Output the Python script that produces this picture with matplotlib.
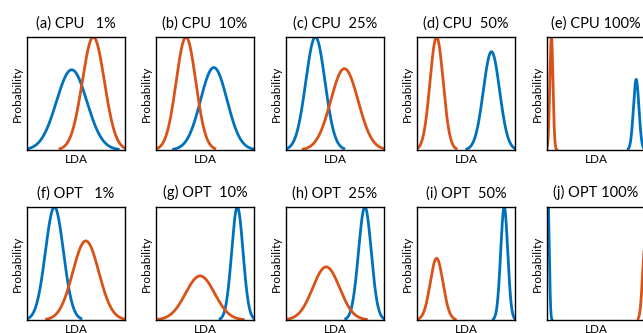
import numpy as np
import matplotlib.pyplot as plt

# panel titles
titles = ["(a) CPU   1%", "(b) CPU  10%", "(c) CPU  25%", "(d) CPU  50%", "(e) CPU 100%",
          "(f) OPT   1%", "(g) OPT  10%", "(h) OPT  25%", "(i) OPT  50%", "(j) OPT 100%"]

# curve parameters (LDA axis scaled 0..1, probability scaled 0..1)
blue_mu   = [0.456, 0.59, 0.30, 0.76, 0.91, 0.28, 0.83, 0.805, 0.89, 0.012]
blue_sd   = [0.155, 0.135, 0.098, 0.083, 0.028, 0.092, 0.058, 0.065, 0.036, 0.012]
blue_peak = [0.71, 0.73, 1.0, 0.87, 0.625, 1.0, 1.0, 1.0, 1.0, 1.0]
blue_lo   = [0.0, 0.18, 0.0, 0.51, 0.83, 0.0, 0.655, 0.61, 0.78, 0.0]
blue_hi   = [0.93, 1.0, 0.59, 1.0, 1.0, 0.55, 1.0, 1.0, 1.0, 0.05]

orange_mu   = [0.677, 0.306, 0.596, 0.20, 0.045, 0.60, 0.45, 0.41, 0.20, 1.0]
orange_sd   = [0.113, 0.10, 0.14, 0.067, 0.016, 0.133, 0.148, 0.137, 0.065, 0.025]
orange_peak = [1.0, 1.0, 0.72, 1.0, 1.0, 0.70, 0.39, 0.47, 0.546, 0.66]
orange_lo   = [0.337, 0.0, 0.175, 0.0, 0.0, 0.20, 0.0, 0.0, 0.0, 0.93]
orange_hi   = [1.0, 0.60, 1.0, 0.40, 0.10, 1.0, 0.89, 0.82, 0.39, 1.0]

BLUE = "#0072BD"
ORANGE = "#D95319"

plt.rcParams['font.family'] = ['Lato', 'DejaVu Sans']

fig = plt.figure(figsize=(6.43, 3.33), dpi=100)
W, H = 643.0, 333.0
lefts = [27, 156, 286, 417, 547]
tops = [37, 207]
aw, ah = 98, 113


def curve(mu, sd, peak, lo, hi):
    x = np.linspace(lo, hi, 300)
    return x, peak * np.exp(-0.5 * ((x - mu) / sd) ** 2)


for i in range(10):
    r, c = divmod(i, 5)
    ax = fig.add_axes([lefts[c] / W, (H - tops[r] - ah) / H, aw / W, ah / H])
    xb, yb = curve(blue_mu[i], blue_sd[i], blue_peak[i], blue_lo[i], blue_hi[i])
    xo, yo = curve(orange_mu[i], orange_sd[i], orange_peak[i], orange_lo[i], orange_hi[i])
    ax.plot(xb, yb, color=BLUE, lw=2)
    ax.plot(xo, yo, color=ORANGE, lw=2)
    ax.set_xlim(0, 1)
    ax.set_ylim(0, 1)
    ax.set_xticks([])
    ax.set_yticks([])
    for s in ax.spines.values():
        s.set_linewidth(1.0)
        s.set_color("black")
    ax.set_title(titles[i], fontsize=10.5, pad=7)
    ax.set_xlabel("LDA", fontsize=8.5, labelpad=3)
    ax.set_ylabel("Probability", fontsize=8.5, labelpad=3)

fig.savefig("out.png", dpi=100)
